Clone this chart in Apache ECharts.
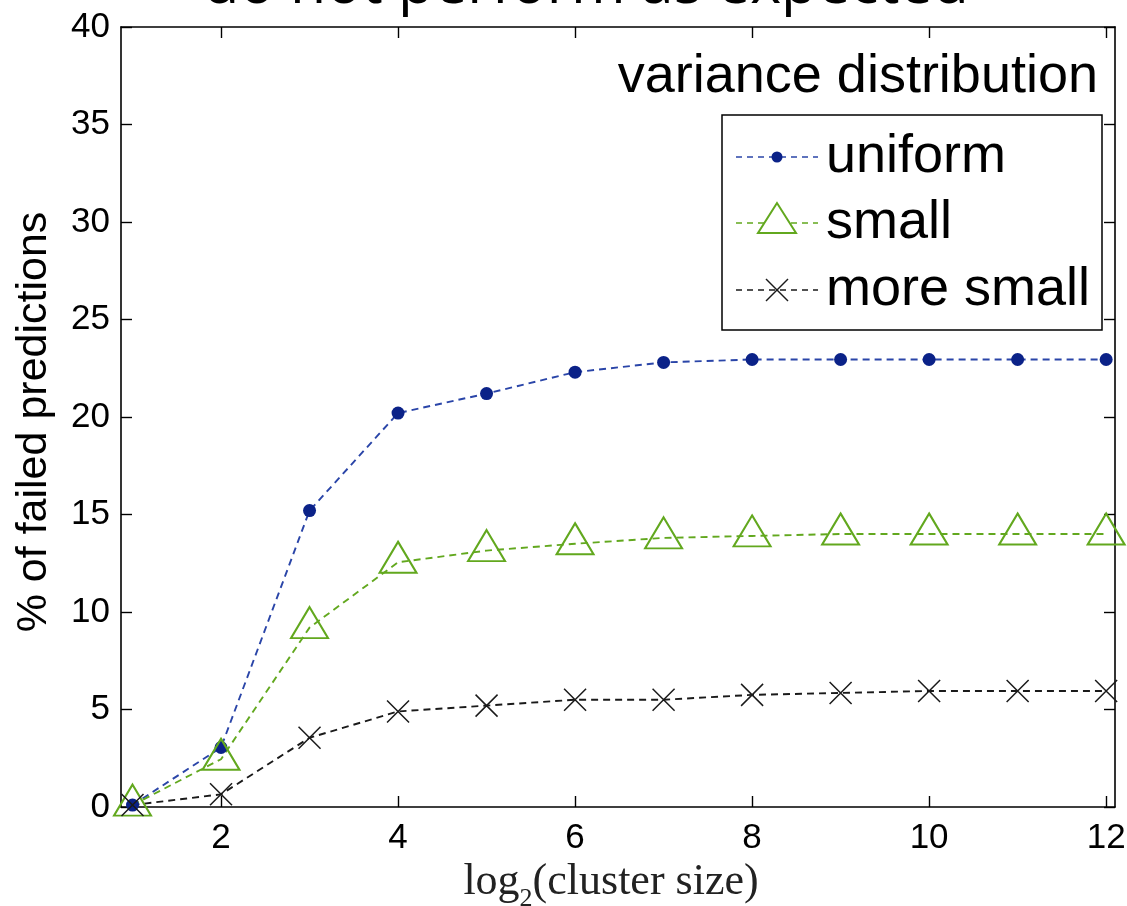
<!DOCTYPE html>
<html>
<head>
<meta charset="utf-8">
<script src="https://cdn.jsdelivr.net/npm/echarts@6/dist/echarts.min.js"></script>
<style>
  html, body { margin: 0; padding: 0; background: #fff; }
  #chart { width: 1127px; height: 906px; }
</style>
</head>
<body>
<div id="chart"></div>
<script>
// log2(cluster size)
const clusterLog2 = [1, 2, 3, 4, 5, 6, 7, 8, 9, 10, 11, 12];
// % of failed predictions per variance distribution
const uniform = [0.1, 3.05, 15.2, 20.2, 21.2, 22.3, 22.8, 22.95, 22.95, 22.95, 22.95, 22.95];
const small = [0.1, 2.45, 9.2, 12.55, 13.15, 13.5, 13.8, 13.9, 14.0, 14.0, 14.0, 14.0];
const moreSmall = [0.1, 0.65, 3.55, 4.9, 5.2, 5.5, 5.5, 5.75, 5.85, 5.95, 5.95, 5.95];
const xTicks = [2, 4, 6, 8, 10, 12];
const legendNames = ['uniform', 'small', 'more small'];

const BLUE = '#0b2288';
const BLUE_LINE = '#2a45a8';
const GREEN = '#62a81e';
const BLACK = '#1a1a1a';
const X_PATH = 'path://M0,0L10,10M10,0L0,10';

function pairs(ys) {
  return clusterLog2.map((x, i) => [x, ys[i]]);
}

const chart = echarts.init(document.getElementById('chart'));

const axisLine = { show: true, onZero: false, lineStyle: { color: '#000', width: 1.6 } };
const axisTick = { show: true, inside: true, length: 11, lineStyle: { color: '#000', width: 1.4 } };
const labelFont = { fontFamily: 'Liberation Sans, Arial', fontSize: 35, color: '#000' };

// legend drawn by hand (MATLAB style box)
const legendX = 722, legendY = 115, rowYs = [157, 223, 290];
const legendGraphics = [
  {
    type: 'rect',
    shape: { x: legendX, y: legendY, width: 380, height: 215 },
    style: { fill: '#fff', stroke: '#000', lineWidth: 1.5 },
    z: 10
  }
];
const lineColors = [BLUE_LINE, GREEN, BLACK];
rowYs.forEach((y, i) => {
  legendGraphics.push({
    type: 'line',
    shape: { x1: 736, y1: y, x2: 818, y2: y },
    style: { stroke: lineColors[i], lineWidth: 1.6, lineDash: [6, 5] },
    z: 11
  });
  legendGraphics.push({
    type: 'text',
    style: {
      text: legendNames[i], x: 826, y: y,
      font: '54px "Liberation Sans", Arial', fill: '#000',
      verticalAlign: 'middle', align: 'left'
    },
    z: 11
  });
});
legendGraphics.push({
  type: 'circle', shape: { cx: 777, cy: rowYs[0], r: 5.5 },
  style: { fill: BLUE }, z: 12
});
legendGraphics.push({
  type: 'polygon',
  shape: { points: [[777, rowYs[1] - 20], [758, rowYs[1] + 10], [796, rowYs[1] + 10]] },
  style: { fill: '#fff', stroke: GREEN, lineWidth: 2 }, z: 12
});
legendGraphics.push({
  type: 'polyline', shape: { points: [[766, rowYs[2] - 11], [788, rowYs[2] + 11]] },
  style: { stroke: BLACK, lineWidth: 1.5 }, z: 12
});
legendGraphics.push({
  type: 'polyline', shape: { points: [[788, rowYs[2] - 11], [766, rowYs[2] + 11]] },
  style: { stroke: BLACK, lineWidth: 1.5 }, z: 12
});

const option = {
  backgroundColor: '#fff',
  animation: false,
  grid: { left: 121, right: 12, top: 27, bottom: 99, containLabel: false, outerBoundsMode: 'none' },
  graphic: [
    {
      type: 'text',
      style: {
        text: 'do not perform as expected', x: 586, y: -14,
        font: '59px "Open Sans", sans-serif', fill: '#000',
        align: 'center', verticalAlign: 'middle'
      }
    },
    {
      type: 'text',
      style: {
        text: 'variance distribution', x: 1098, y: 77,
        font: '54px "Liberation Sans", Arial', fill: '#000',
        align: 'right', verticalAlign: 'middle'
      },
      z: 11
    }
  ].concat(legendGraphics),
  xAxis: [
    {
      type: 'value', position: 'bottom', min: 0.87, max: 12.1,
      axisLine: axisLine,
      axisTick: Object.assign({ customValues: xTicks }, axisTick),
      axisLabel: Object.assign({ customValues: xTicks, margin: 14 }, labelFont),
      splitLine: { show: false },
      name: '{n|log}{s|2}{n|(cluster size)}',
      nameLocation: 'middle', nameGap: 50,
      nameTextStyle: {
        padding: [0, 14, 0, 0],
        rich: {
          n: { fontFamily: 'Liberation Serif, serif', fontSize: 44, color: '#222', verticalAlign: 'bottom', padding: [0, 0, 7, 0] },
          s: { fontFamily: 'Liberation Serif, serif', fontSize: 26, color: '#222', verticalAlign: 'bottom' }
        }
      }
    },
    {
      type: 'value', position: 'top', min: 0.87, max: 12.1,
      axisLine: axisLine,
      axisTick: Object.assign({ customValues: xTicks }, axisTick),
      axisLabel: { show: false },
      splitLine: { show: false }
    }
  ],
  yAxis: [
    {
      type: 'value', position: 'left', min: 0, max: 40, interval: 5,
      axisLine: axisLine, axisTick: axisTick,
      axisLabel: Object.assign({ margin: 11 }, labelFont),
      splitLine: { show: false },
      name: '% of failed predictions',
      nameLocation: 'middle', nameGap: 65,
      nameTextStyle: { fontFamily: 'Liberation Sans, Arial', fontSize: 43, color: '#000', padding: [0, 10, 0, 0] }
    },
    {
      type: 'value', position: 'right', min: 0, max: 40, interval: 5,
      axisLine: axisLine, axisTick: axisTick,
      axisLabel: { show: false },
      splitLine: { show: false }
    }
  ],
  series: [
    {
      name: legendNames[0], type: 'line', data: pairs(uniform),
      symbol: 'circle', symbolSize: 13,
      itemStyle: { color: BLUE },
      lineStyle: { color: BLUE_LINE, width: 1.9, type: [7, 5] }
    },
    {
      name: legendNames[1], type: 'line', data: pairs(small),
      symbol: 'triangle', symbolSize: [37, 31], symbolOffset: [0, -5],
      itemStyle: { color: 'rgba(0,0,0,0)', borderColor: GREEN, borderWidth: 2 },
      lineStyle: { color: GREEN, width: 1.9, type: [7, 5] }
    },
    {
      name: legendNames[2], type: 'line', data: pairs(moreSmall),
      symbol: X_PATH, symbolSize: 22,
      itemStyle: { color: 'rgba(0,0,0,0)', borderColor: BLACK, borderWidth: 1.5 },
      lineStyle: { color: BLACK, width: 1.9, type: [7, 5] }
    }
  ]
};

chart.setOption(option);
</script>
</body>
</html>
